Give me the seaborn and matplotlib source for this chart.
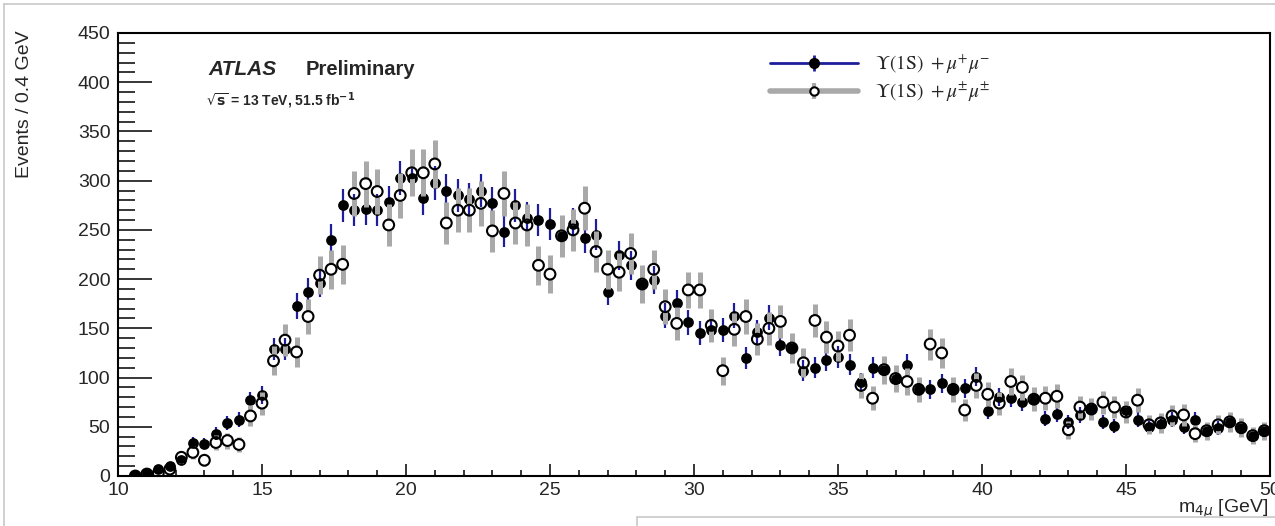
import numpy as np
import pandas as pd
import matplotlib
matplotlib.use("Agg")
import matplotlib.pyplot as plt
import seaborn as sns
from matplotlib.lines import Line2D
from matplotlib.patches import Rectangle
from matplotlib.legend_handler import HandlerTuple
from matplotlib.font_manager import FontProperties
from matplotlib.ticker import MultipleLocator

# ---------------- data ----------------
bin_centers = np.round(np.arange(10.6, 49.85, 0.4), 1)   # 0.4 GeV bins

os_counts = [1, 3, 7, 10, 16, 34, 33, 43, 54, 57,
             77, 82, 129, 129, 173, 187, 196, 240, 275, 270,
             271, 270, 278, 303, 303, 282, 298, 290, 285, 281,
             290, 277, 248, 275, 262, 260, 256, 244, 256, 242,
             245, 187, 224, 214, 195, 199, 163, 176, 156, 145,
             148, 148, 163, 120, 146, 161, 133, 130, 107, 110,
             118, 121, 113, 95, 110, 108, 99, 113, 88, 88,
             94, 88, 89, 101, 66, 80, 79, 75, 78, 58,
             63, 55, 62, 68, 55, 51, 67, 57, 50, 53,
             57, 50, 57, 46, 49, 55, 49, 41, 46]

ss_counts = [0, 2, 3, 7, 19, 24, 16, 34, 36, 32,
             61, 74, 117, 138, 126, 162, 204, 210, 215, 287,
             297, 289, 255, 285, 308, 308, 317, 257, 270, 270,
             277, 249, 287, 257, 255, 214, 205, 244, 250, 272,
             228, 210, 207, 226, 195, 210, 172, 155, 189, 189,
             153, 107, 149, 162, 139, 150, 157, 130, 115, 158,
             141, 132, 143, 92, 79, 108, 99, 96, 88, 134,
             125, 88, 67, 92, 83, 74, 96, 90, 78, 79,
             81, 47, 70, 68, 75, 70, 65, 77, 52, 54,
             61, 62, 43, 46, 52, 55, 49, 41, 46]

ss_scale = 1.85   # same-sign sample normalisation (errors scale with sqrt)

labels = [r"$\Upsilon\mathrm{(1S)}\ +\mu^{+}\mu^{-}$",
          r"$\Upsilon\mathrm{(1S)}\ +\mu^{\pm}\mu^{\pm}$"]
x_title = r"m$_{4\mu}$ [GeV]"
y_title = "Events / 0.4 GeV"

assert len(os_counts) == len(bin_centers) == len(ss_counts)

df = pd.DataFrame({"m": bin_centers,
                   "os": np.array(os_counts, float),
                   "ss": np.array(ss_counts, float)})
df["os_err"] = np.sqrt(df["os"])
df["ss_err"] = np.sqrt(ss_scale * df["ss"])

# ---------------- style ----------------
sns.set_style("ticks")
plt.rcParams["font.family"] = ["Liberation Sans", "DejaVu Sans"]

W, H = 1275, 526
fig = plt.figure(figsize=(W / 100, H / 100), dpi=100)
ax = fig.add_axes([118 / W, 1 - 476 / H, (1270 - 118) / W, (476 - 33) / H])

blue = "#1e1e9c"
grey = "#a9a9a9"

# opposite-sign: blue error bars + filled markers
ax.errorbar(df["m"], df["os"], yerr=df["os_err"], fmt="none",
            ecolor=blue, elinewidth=1.6, capsize=0, zorder=2)
sns.scatterplot(data=df, x="m", y="os", ax=ax, marker="o", s=60,
                color="black", linewidth=0, zorder=3, legend=False)

# same-sign: grey error bars (gap around marker) + open markers
gap = 5.2
m = df["ss_err"] > gap
ax.vlines(df["m"][m], df["ss"][m] + gap, df["ss"][m] + df["ss_err"][m],
          color=grey, lw=3.6, zorder=4)
ax.vlines(df["m"][m], df["ss"][m] - df["ss_err"][m], df["ss"][m] - gap,
          color=grey, lw=3.6, zorder=4)
sns.scatterplot(data=df, x="m", y="ss", ax=ax, marker="o", s=60,
                color="black", zorder=5, legend=False)
oc = ax.collections[-1]
oc.set_facecolor("none")
oc.set_edgecolor("black")
oc.set_linewidth(1.5)

# axes
ax.set_xlim(10, 50)
ax.set_ylim(0, 450)
ax.xaxis.set_major_locator(MultipleLocator(5))
ax.xaxis.set_minor_locator(MultipleLocator(1))
ax.yaxis.set_major_locator(MultipleLocator(50))
ax.yaxis.set_minor_locator(MultipleLocator(10))
ax.tick_params(axis="both", which="both", direction="in", width=1.1,
               top=False, right=False, labelsize=14, color="black")
ax.tick_params(axis="y", which="major", length=24.5, pad=5.5)
ax.tick_params(axis="y", which="minor", length=12.2)
ax.tick_params(axis="x", which="major", length=8.6, pad=4.5)
ax.tick_params(axis="x", which="minor", length=4.3)
for sp in ax.spines.values():
    sp.set_visible(True)
    sp.set_linewidth(1.5)
    sp.set_color("black")
ax.set_xlabel("")
ax.set_ylabel("")

fig.text(25 / W, 1 - 30 / H, y_title, rotation=90, ha="center", va="top",
         fontsize=14)
fig.text(1268 / W, 1 - 513 / H, x_title, ha="right", va="baseline",
         fontsize=14)

# ATLAS label
fig.text(208 / W, 1 - 75 / H, "ATLAS", fontsize=15, fontweight="bold",
         fontstyle="italic", va="baseline")
fig.text(306 / W, 1 - 75 / H, "Preliminary", fontsize=14.5,
         fontweight="bold", va="baseline")
fig.text(206 / W, 1 - 106 / H, r"$\sqrt{\mathbf{s}}$ = 13 TeV, 51.5 fb$^{\mathbf{-1}}$",
         fontsize=10, fontweight="bold", va="baseline")

# legend
h1 = (Line2D([], [], color=blue, lw=2),
      Line2D([], [], color=blue, marker="|", ms=12, mew=2, ls="none"),
      Line2D([], [], color="black", marker="o", ms=7, ls="none"))
h2 = (Line2D([], [], color=grey, lw=4),
      Line2D([], [], color=grey, marker="|", ms=12, mew=3, ls="none"),
      Line2D([], [], color="black", marker="o", ms=6, mfc="white",
             mew=1.5, ls="none"))
lp = FontProperties(family="Liberation Serif", size=14, math_fontfamily="stix")
ax.legend([h1, h2], labels, handler_map={tuple: HandlerTuple(ndivide=1)},
          loc="upper left", bbox_to_anchor=(770 / W, 1 - 52 / H),
          bbox_transform=fig.transFigure, frameon=False, prop=lp,
          handlelength=4.5, handletextpad=0.9, labelspacing=0.25,
          borderpad=0, borderaxespad=0)

# screenshot frame decorations
fig.add_artist(Line2D([4 / W, 1], [1 - 4 / H, 1 - 4 / H], color="#c8c8c8",
                      lw=1.2, transform=fig.transFigure))
fig.add_artist(Line2D([4 / W, 4 / W], [0, 1 - 4 / H], color="#c8c8c8",
                      lw=1.2, transform=fig.transFigure))
fig.add_artist(Rectangle((637 / W, -0.01), 1, (526 - 517) / H + 0.01,
                         facecolor="white", edgecolor="#c8c8c8", lw=1.2,
                         transform=fig.transFigure, zorder=10))

fig.savefig("out.png", dpi=100)
